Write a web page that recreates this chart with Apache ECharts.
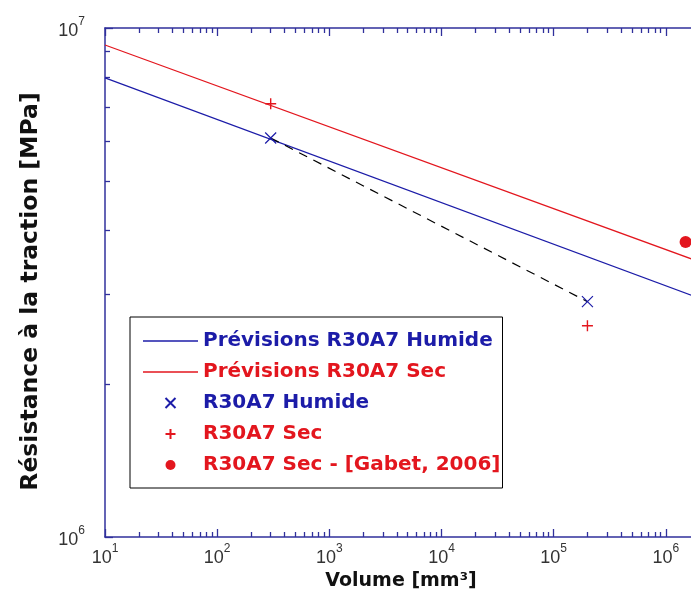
<!DOCTYPE html>
<html><head><meta charset="utf-8">
<script src="https://cdn.jsdelivr.net/npm/echarts@6/dist/echarts.min.js"></script>
<style>html,body{margin:0;padding:0;background:#fff}#c{width:691px;height:596px}</style>
</head><body><div id="c"></div>
<script>
// ---- data ----
const xMajorTicks = [10, 100, 1000, 10000, 100000, 1000000];
const yMajorTicks = [1000000, 10000000];
const predX = [10, 10000000];
const predHumide = [7.98e6, 2.58e6];
const predSec = [9.26e6, 3.05e6];
const humideX = [300, 200000];
const humideY = [6.08e6, 2.90e6];
const secX = [300, 200000];
const secY = [7.10e6, 2.60e6];
const gabetX = [1.5e6];
const gabetY = [3.8e6];
const names = ['Prévisions R30A7 Humide', 'Prévisions R30A7 Sec', 'R30A7 Humide', 'R30A7 Sec', 'R30A7 Sec - [Gabet, 2006]'];

// minor tick positions (2..9 per decade)
const xMinorTicks = [], yMinorTicks = [];
for (let d = 10; d < 1e7; d *= 10) for (let k = 2; k <= 9; k++) xMinorTicks.push(d * k);
for (let k = 2; k <= 9; k++) yMinorTicks.push(1e6 * k);

const BLUE = '#1c1ca8', RED = '#e3161e', AX = '#30309c', TXT = '#333333';
const zip = (a, b) => a.map((v, i) => [v, b[i]]);
const fmt = v => '{b|10}{s|' + Math.round(Math.log10(v)) + '}';
const rich = {
  b: {fontSize: 18, fontFamily: 'Liberation Sans', color: TXT, lineHeight: 24, verticalAlign: 'bottom'},
  s: {fontSize: 12, fontFamily: 'Liberation Sans', color: TXT, lineHeight: 12, verticalAlign: 'top'}
};
const axLine = {show: true, onZero: false, lineStyle: {color: AX, width: 1.5}};
const tk = (vals, len) => ({show: true, inside: true, length: len, customValues: vals, lineStyle: {color: AX, width: 1.3}});
const base = (mn, mx, extra) => Object.assign({type: 'log', logBase: 10, min: mn, max: mx, splitLine: {show: false},
  axisLabel: {show: false}, axisLine: {show: false}, axisTick: {show: false}}, extra);
const titleStyle = {fontFamily: 'DejaVu Sans', fontWeight: 'bold', fontSize: 19, color: '#111'};
const lineIcon = 'path://M0,0L55,0L55,1.3L0,1.3Z';

const option = {
  animation: false,
  backgroundColor: '#fff',
  grid: {left: 105, top: 28, width: 673, height: 509, outerBoundsMode: 'none', containLabel: false},
  title: {text: 'Volume [mm³]', left: 401, top: 572, textAlign: 'center', padding: 0,
    textStyle: titleStyle},
  xAxis: [
    base(10, 1e7, {position: 'bottom', axisLine: axLine, axisTick: tk(xMajorTicks, 8),
      axisLabel: {show: true, customValues: xMajorTicks, margin: 6, formatter: fmt, rich: rich}}),
    base(10, 1e7, {position: 'bottom', axisTick: tk(xMinorTicks, 5)}),
    base(10, 1e7, {position: 'top', axisLine: axLine, axisTick: tk(xMajorTicks, 8)}),
    base(10, 1e7, {position: 'top', axisTick: tk(xMinorTicks, 5)})
  ],
  yAxis: [
    base(1e6, 1e7, {position: 'left', axisLine: axLine, axisTick: tk(yMajorTicks, 8),
      axisLabel: {show: true, customValues: yMajorTicks, margin: 20, formatter: fmt, rich: rich},
      name: 'Résistance à la traction [MPa]', nameLocation: 'middle', nameGap: 62,
      nameTextStyle: Object.assign({}, titleStyle, {fontSize: 23.5, padding: [0, 18, 0, 0]})}),
    base(1e6, 1e7, {position: 'left', axisTick: tk(yMinorTicks, 5)})
  ],
  legend: {
    orient: 'vertical', left: 130, top: 317, padding: [13, 2, 12, 13], itemGap: 9,
    itemWidth: 55, itemHeight: 10, borderColor: '#000', borderWidth: 1, backgroundColor: '#fff',
    selectedMode: false,
    textStyle: {fontFamily: 'DejaVu Sans', fontWeight: 'bold', fontSize: 20, lineHeight: 22},
    data: [
      {name: names[0], icon: lineIcon, itemStyle: {color: BLUE}, textStyle: {color: BLUE}},
      {name: names[1], icon: lineIcon, itemStyle: {color: RED}, textStyle: {color: RED}},
      {name: names[2], textStyle: {color: BLUE}},
      {name: names[3], textStyle: {color: RED}},
      {name: names[4], textStyle: {color: RED}}
    ]
  },
  series: [
    {name: names[0], type: 'line', data: zip(predX, predHumide), symbol: 'none', lineStyle: {color: BLUE, width: 1.2}, itemStyle: {color: BLUE}, z: 2},
    {name: names[1], type: 'line', data: zip(predX, predSec), symbol: 'none', lineStyle: {color: RED, width: 1.2}, itemStyle: {color: RED}, z: 2},
    {name: 'dash', type: 'line', data: zip(humideX, humideY), symbol: 'none', lineStyle: {color: '#000', width: 1.2, type: [9, 7]}, z: 2},
    {name: names[2], type: 'scatter', data: zip(humideX, humideY), symbol: 'path://M0,0L10,10M10,0L0,10', symbolSize: 11,
      itemStyle: {color: BLUE, borderColor: BLUE, borderWidth: 1.2, opacity: 1}, z: 3},
    {name: names[3], type: 'scatter', data: zip(secX, secY), symbol: 'path://M5,0L5,10M0,5L10,5', symbolSize: 11,
      itemStyle: {color: RED, borderColor: RED, borderWidth: 1.4, opacity: 1}, z: 3},
    {name: names[4], type: 'scatter', data: zip(gabetX, gabetY), symbol: 'circle', symbolSize: 12,
      itemStyle: {color: RED, opacity: 1}, z: 3}
  ]
};
echarts.init(document.getElementById('c')).setOption(option);
</script>
</body></html>
